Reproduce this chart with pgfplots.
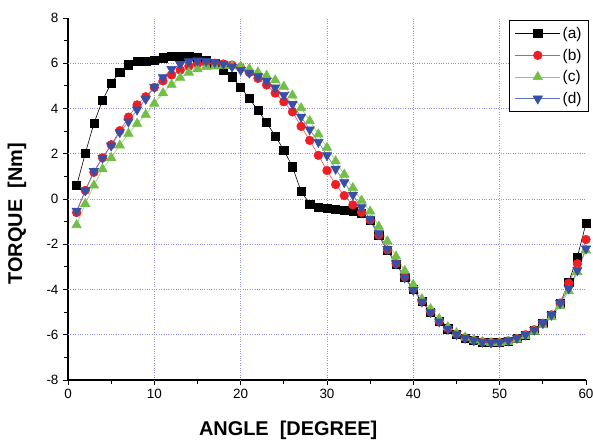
\documentclass[border=0pt]{standalone}
\usepackage{fontspec}
\setmainfont{Liberation Sans}
\usepackage{pgfplots}
\usepackage{pgfplotstable}
\pgfplotsset{compat=1.18}
\definecolor{gridc}{RGB}{145,145,225}
\definecolor{myred}{RGB}{237,30,36}
\definecolor{mygreen}{RGB}{115,190,70}
\definecolor{myblue}{RGB}{55,80,165}

\pgfplotstableread{
d a b c e
1 0.59 -0.60 -1.15 -0.52
2 2.01 0.38 -0.21 0.38
3 3.34 1.18 0.60 1.23
4 4.37 1.82 1.32 1.82
5 5.12 2.40 1.82 2.36
6 5.60 3.02 2.37 2.95
7 5.93 3.62 2.89 3.42
8 6.09 4.16 3.33 3.95
9 6.07 4.52 3.73 4.42
10 6.13 4.93 4.22 4.95
11 6.24 5.22 4.68 5.38
12 6.31 5.48 5.05 5.74
13 6.32 5.70 5.36 5.96
14 6.30 5.87 5.59 6.08
15 6.24 5.97 5.74 6.12
16 6.14 6.00 5.84 6.10
17 5.98 6.00 5.86 6.05
18 5.70 5.97 5.88 5.97
19 5.40 5.92 5.88 5.85
20 4.94 5.80 5.86 5.70
21 4.44 5.59 5.75 5.58
22 3.92 5.33 5.60 5.42
23 3.38 5.04 5.45 5.22
24 2.78 4.68 5.25 4.92
25 2.17 4.30 4.97 4.59
26 1.42 3.85 4.58 4.19
27 0.34 3.21 4.02 3.63
28 -0.22 2.59 3.45 3.07
29 -0.35 1.93 2.86 2.52
30 -0.42 1.26 2.27 1.93
31 -0.46 0.64 1.67 1.33
32 -0.50 0.15 1.08 0.74
33 -0.56 -0.26 0.49 0.18
34 -0.64 -0.59 -0.07 -0.37
35 -0.93 -0.93 -0.55 -0.88
36 -1.62 -1.60 -1.22 -1.52
37 -2.28 -2.25 -1.87 -2.21
38 -2.87 -2.86 -2.54 -2.85
39 -3.46 -3.45 -3.17 -3.47
40 -3.98 -3.98 -3.79 -4.03
41 -4.52 -4.51 -4.42 -4.54
42 -5.00 -4.99 -4.86 -5.01
43 -5.42 -5.41 -5.30 -5.42
44 -5.74 -5.73 -5.66 -5.74
45 -5.98 -5.97 -5.93 -5.98
46 -6.14 -6.13 -6.12 -6.14
47 -6.25 -6.24 -6.24 -6.25
48 -6.32 -6.31 -6.32 -6.32
49 -6.35 -6.34 -6.36 -6.35
50 -6.35 -6.34 -6.36 -6.34
51 -6.28 -6.27 -6.31 -6.26
52 -6.17 -6.16 -6.21 -6.14
53 -6.01 -6.00 -6.06 -5.99
54 -5.79 -5.78 -5.86 -5.78
55 -5.50 -5.49 -5.58 -5.49
56 -5.13 -5.12 -5.22 -5.12
57 -4.62 -4.60 -4.72 -4.60
58 -3.67 -3.72 -4.06 -3.96
59 -2.56 -2.86 -3.23 -3.15
60 -1.08 -1.79 -2.27 -2.19
}\datatable

\begin{document}
\begin{tikzpicture}
\path[use as bounding box] (-68bp,-65bp) rectangle (525bp,380bp);
\begin{axis}[
  at={(0,0)}, anchor=south west,
  scale only axis, width=518bp, height=362bp,
  xmin=0, xmax=60, ymin=-8, ymax=8,
  clip=false,
  axis lines*=left,
  axis line style={black, line width=1.2pt},
  xtick={0,10,...,60}, ytick={-8,-6,...,8},
  minor x tick num=1, minor y tick num=1,
  tick align=outside,
  major tick length=5bp, minor tick length=4bp,
  tick style={black, line width=0.9pt},
  extra x ticks={10,20,30,40,50},
  extra x tick labels={},
  extra y ticks={-6,-4,-2,0,2,4,6},
  extra y tick labels={},
  extra tick style={grid=major, major tick length=0pt},
  major grid style={gridc, dotted, line width=0.7pt},
  /pgf/number format/assume math mode=true,
  ticklabel style={font=\fontsize{13.5}{16}\selectfont},
  xticklabel style={yshift=-1bp},
  yticklabel style={xshift=-1bp},
  xlabel={ANGLE\ \ [DEGREE]},
  ylabel={TORQUE\ \ [Nm]},
  label style={font=\fontsize{20}{24}\selectfont\bfseries},
  xlabel style={at={(axis description cs:0.425,-0.138)}, anchor=center},
  ylabel style={at={(axis description cs:-0.0985,0.459)}, anchor=center},
  legend style={at={(rel axis cs:1.006,0.995)}, anchor=north east, draw=black,
    line width=1pt, font=\fontsize{15.5}{18}\selectfont, row sep=5bp,
    inner xsep=5bp, inner ysep=5bp},
  legend cell align=left,
  legend image code/.code={\draw[mark repeat=2,mark phase=2] plot coordinates {(0cm,0cm) (0.8cm,0cm) (1.6cm,0cm)};},
]
\addplot[black, line width=0.6pt, mark=square*, mark size=4.1bp, mark options={solid, fill=black, draw=black}] table[x=d, y=a] {\datatable};
\addlegendentry{(a)}
\addplot[myred!80, line width=0.6pt, mark=*, mark size=4.3bp, mark options={solid, fill=myred, draw=myred}] table[x=d, y=b] {\datatable};
\addlegendentry{(b)}
\addplot[mygreen!80, line width=0.6pt, mark=triangle*, mark size=5.4bp, mark options={solid, fill=mygreen, draw=mygreen}] table[x=d, y=c] {\datatable};
\addlegendentry{(c)}
\addplot[myblue!80, line width=0.6pt, mark=triangle*, mark size=5.4bp, mark options={solid, rotate=180, fill=myblue, draw=myblue}] table[x=d, y=e] {\datatable};
\addlegendentry{(d)}
\end{axis}
\end{tikzpicture}
\end{document}
